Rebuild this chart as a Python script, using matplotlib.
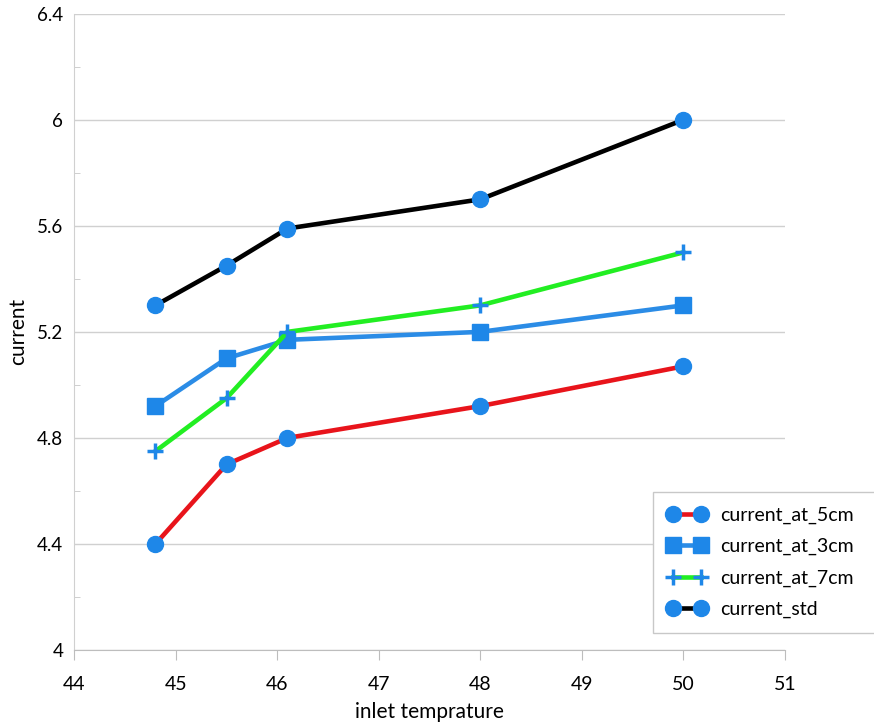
import matplotlib
matplotlib.use('Agg')
import matplotlib.pyplot as plt
from matplotlib.ticker import MultipleLocator, FuncFormatter

plt.rcParams['font.family'] = ['Lato', 'DejaVu Sans']

# 入口温度 vs 电流
inlet_temp = [44.8, 45.5, 46.1, 48, 50]
current_at_5cm = [4.40, 4.70, 4.80, 4.92, 5.07]
current_at_3cm = [4.92, 5.10, 5.17, 5.20, 5.30]
current_at_7cm = [4.75, 4.95, 5.20, 5.30, 5.50]
current_std = [5.30, 5.45, 5.59, 5.70, 6.00]

marker_color = '#1e87e8'

fig = plt.figure(figsize=(8.74, 7.27), dpi=100)
ax = fig.add_axes([0.085, 0.106, 0.813, 0.875])

ax.plot(inlet_temp, current_at_5cm, color='#e8141b', lw=3.3, marker='o', ms=11.5,
        mfc=marker_color, mec=marker_color, label='current_at_5cm')
ax.plot(inlet_temp, current_at_3cm, color='#2b8ce6', lw=3.3, marker='s', ms=11.5,
        mfc=marker_color, mec=marker_color, label='current_at_3cm')
ax.plot(inlet_temp, current_at_7cm, color='#22ee22', lw=3.3, marker='+', ms=11.5, mew=2.5,
        mfc=marker_color, mec=marker_color, label='current_at_7cm')
ax.plot(inlet_temp, current_std, color='black', lw=3.3, marker='o', ms=11.5,
        mfc=marker_color, mec=marker_color, label='current_std')

ax.set_xlim(44, 51)
ax.set_ylim(4, 6.4)
ax.xaxis.set_major_locator(MultipleLocator(1))
ax.yaxis.set_major_locator(MultipleLocator(0.4))
ax.yaxis.set_minor_locator(MultipleLocator(0.2))
ax.yaxis.set_major_formatter(FuncFormatter(lambda v, p: f'{v:g}'))

ax.grid(True, axis='y', color='#d0d0d0', lw=1)
ax.set_axisbelow(True)
for s in ['top', 'right']:
    ax.spines[s].set_visible(False)
ax.spines['left'].set_color('#d0d0d0')
ax.spines['bottom'].set_color('#bdbdbd')

ax.tick_params(axis='y', which='major', length=0, pad=8, labelsize=13.5)
ax.tick_params(axis='y', which='minor', direction='in', length=4, color='#c8c8c8')
ax.tick_params(axis='x', length=7, color='#bdbdbd', pad=12, labelsize=14)

ax.set_xlabel('inlet temprature', fontsize=15, labelpad=6)
ax.set_ylabel('current', fontsize=15, labelpad=6)

# 图例框延伸到右侧边缘之外
leg = fig.legend(loc='upper left', bbox_to_anchor=(0.747, 0.0, 0.27, 0.323), mode='expand',
                 fontsize=14, numpoints=2, fancybox=False, edgecolor='#c8c8c8',
                 handlelength=2.0, handletextpad=0.7, borderpad=0.75, labelspacing=0.73,
                 borderaxespad=0, framealpha=1)

fig.savefig('out.png', dpi=100)
